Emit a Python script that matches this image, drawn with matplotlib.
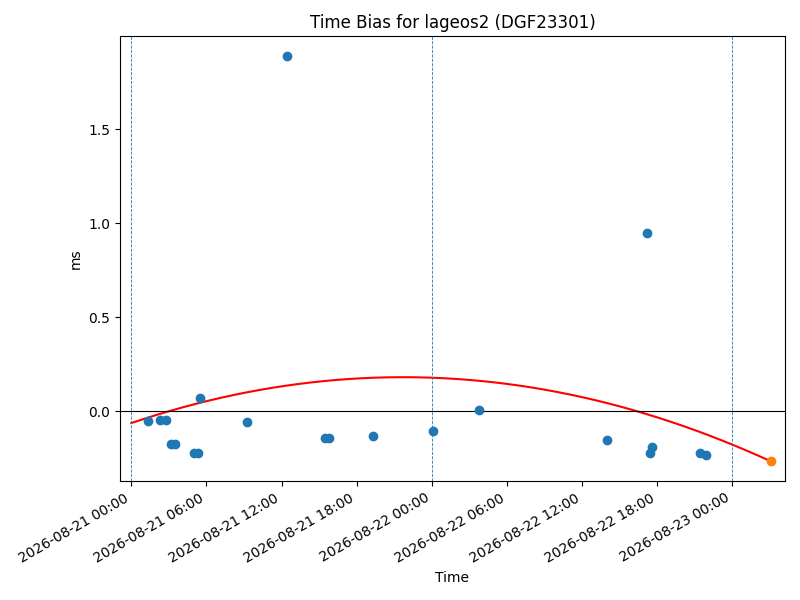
import numpy as np
import pandas as pd
import matplotlib
matplotlib.use("Agg")
import matplotlib.pyplot as plt
import matplotlib.dates as mdates

start = pd.Timestamp("2026-08-21 00:00")

# hours since start, bias in ms
hours = [1.36, 2.3, 2.8, 3.2, 3.5, 5.0, 5.35, 5.5, 9.25, 12.44, 15.47, 15.8,
         19.3, 24.08, 27.8, 37.96, 41.2, 41.4, 41.6, 45.4, 45.9]
bias = [-0.053, -0.048, -0.048, -0.175, -0.175, -0.223, -0.223, 0.069, -0.058,
        1.888, -0.144, -0.144, -0.133, -0.106, 0.005, -0.154, 0.947, -0.223,
        -0.191, -0.223, -0.234]
last_hour = 51.1
last_bias = -0.266

# quadratic fit: a*(t - t0)^2 + c
fit_a, fit_t0, fit_c = -0.000518, 21.7, 0.181

times = start + pd.to_timedelta(hours, unit="h")
t_fit = np.linspace(0, last_hour, 200)
y_fit = fit_a * (t_fit - fit_t0) ** 2 + fit_c
times_fit = start + pd.to_timedelta(t_fit, unit="h")

fig, ax = plt.subplots(figsize=(8, 6), dpi=100)
ax.scatter(times, bias, color="C0", zorder=3)
ax.plot(times_fit, y_fit, color="red")
ax.scatter([start + pd.Timedelta(hours=last_hour)], [last_bias], color="C1", zorder=3)
ax.axhline(0, color="black", linewidth=0.8)
for d in ["2026-08-21", "2026-08-22", "2026-08-23"]:
    ax.axvline(pd.Timestamp(d), color="#1f77b4", linestyle="--", linewidth=0.6)

ax.set_xlim(start - pd.Timedelta(hours=0.9), start + pd.Timedelta(hours=52.2))
ax.set_ylim(-0.372, 1.995)
ax.xaxis.set_major_locator(mdates.HourLocator(byhour=[0, 6, 12, 18]))
ax.xaxis.set_major_formatter(mdates.DateFormatter("%Y-%m-%d %H:%M"))
ax.set_title("Time Bias for lageos2 (DGF23301)")
ax.set_xlabel("Time")
ax.set_ylabel("ms")
fig.autofmt_xdate()
fig.subplots_adjust(left=0.15, right=0.981, top=0.94, bottom=0.198)
fig.savefig("out.png")
